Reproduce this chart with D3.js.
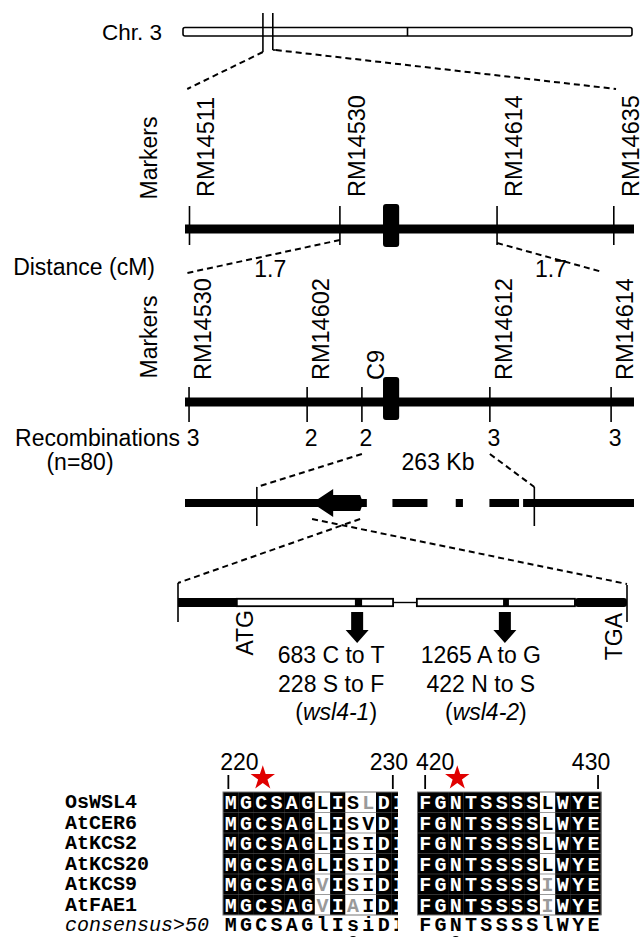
<!DOCTYPE html>
<html>
<head>
<meta charset="utf-8">
<script src="https://cdnjs.cloudflare.com/ajax/libs/d3/7.8.5/d3.min.js"></script>
<style>
  body { margin: 0; background: #fff; }
  svg { display: block; }
  text { font-family: "Liberation Sans", Arial, sans-serif; fill: #000; }
  .mono { font-family: "Liberation Mono", "Courier New", monospace; font-weight: bold; }
</style>
</head>
<body>
<div id="chart"></div>
<script>
// ---- data (positions are % along each drawn segment) ----
const chrDivider = [50];
const chrBreaks = [17.8, 20.0];

const map1Markers = ["RM14511", "RM14530", "RM14614", "RM14635"];
const map1Pos = [1, 34.5, 69.5, 95.5];
const map1Dist = ["1.7", "1.7"];
const map1DistPos = [19, 81.5];
const centromere1 = [44.1, 47.7];

const map2Markers = ["RM14530", "RM14602", "C9", "RM14612", "RM14614"];
const map2Pos = [0.9, 27.2, 39.4, 67.9, 94.9];
const map2Recomb = [3, 2, 2, 3, 3];
const centromere2 = [44.1, 47.7];

const bacTicks = [16.0, 77.8];
const bacSegments = [[0, 40.5], [46.2, 54.0], [60.3, 61.9], [67.8, 74.4], [75.3, 100]];
const geneArrow = { tip: 28.3, neck: 33.0, end: 39.0 };
const bacLabel = "263 Kb";

const geneBlack = [[0, 13.1], [88.4, 100]];
const geneExons = [[13.1, 47.9], [53.2, 88.4]];
const geneMarks = [[39.4, 41.0], [72.4, 73.7]];
const mutations = [
  { pos: 39.9, dx: -26, lines: ["683 C to T", "228 S to F"], allele: "wsl4-1" },
  { pos: 72.8, dx: -24, lines: ["1265 A to G", "422 N to S"], allele: "wsl4-2" }
];

const seqNames = ["OsWSL4", "AtCER6", "AtKCS2", "AtKCS20", "AtKCS9", "AtFAE1"];
const seqLeft = ["MGCSAGLISLDI", "MGCSAGLISVDI", "MGCSAGLISIDI", "MGCSAGLISIDI", "MGCSAGVISIDI", "MGCSAGVIAIDI"];
const seqRight = ["FGNTSSSSLWYE", "FGNTSSSSLWYE", "FGNTSSSSLWYE", "FGNTSSSSLWYE", "FGNTSSSSIWYE", "FGNTSSSSIWYE"];
const greyLeft = ["000000000100", "000000000000", "000000000000", "000000000000", "000000100000", "000000101000"];
const greyRight = ["000000000000", "000000000000", "000000000000", "000000000000", "000000001000", "000000001000"];
const consLeft = "MGCSAGlIsiDI";
const consRight = "FGNTSSSSlWYE";
const ticksLeft = [{ label: "220", col: -0.15, dx: 11 }, { label: "230", col: 10.6, dx: -4 }];
const ticksRight = [{ label: "420", col: 0.0, dx: 10 }, { label: "430", col: 11.3, dx: -7 }];
const starCols = { left: 2.1, right: 2.1 };
const markCols = { left: 8, right: 2 };

// ---- drawing ----
const W = 643, H = 937;
const svg = d3.select("#chart").append("svg").attr("width", W).attr("height", H);
svg.append("rect").attr("width", W).attr("height", H).attr("fill", "#fff");

const FS = 23;
function label(x, y, txt, anchor, size) {
  return svg.append("text").attr("x", x).attr("y", y)
    .attr("text-anchor", anchor || "start")
    .style("font-size", (size || FS) + "px").text(txt);
}
function vlabel(x, y, txt, anchor, size) {
  return svg.append("text")
    .attr("transform", `translate(${x},${y}) rotate(-90)`)
    .attr("text-anchor", anchor || "start")
    .style("font-size", (size || FS) + "px").text(txt);
}
function dashed(x1, y1, x2, y2) {
  svg.append("line").attr("x1", x1).attr("y1", y1).attr("x2", x2).attr("y2", y2)
    .attr("stroke", "#000").attr("stroke-width", 2).attr("stroke-dasharray", "6,4");
}
function vline(x, y1, y2, w) {
  svg.append("line").attr("x1", x).attr("x2", x).attr("y1", y1).attr("y2", y2)
    .attr("stroke", "#000").attr("stroke-width", w || 1.6);
}

// Chr. 3
const chrX = d3.scaleLinear().domain([0, 100]).range([183, 632]);
label(162, 40, "Chr. 3", "end", 22.5);
svg.append("rect").attr("x", chrX(0)).attr("y", 27.5).attr("width", chrX(100) - chrX(0)).attr("height", 8.5)
  .attr("rx", 2).attr("fill", "#fff").attr("stroke", "#000").attr("stroke-width", 1.6);
chrDivider.forEach(d => vline(chrX(d), 27.5, 36));
vline(chrX(chrBreaks[0]), 13, 52);
vline(chrX(chrBreaks[1]), 13, 50);

// map 1
const mapX = d3.scaleLinear().domain([0, 100]).range([185, 634]);
dashed(chrX(chrBreaks[0]), 52, mapX(0.5), 89);
svg.append("line").attr("x1", chrX(chrBreaks[1])).attr("x2", chrX(chrBreaks[1]) + 3)
  .attr("y1", 50).attr("y2", 50).attr("stroke", "#000").attr("stroke-width", 1.6);
dashed(chrX(chrBreaks[1]) + 3, 50, mapX(96), 89);

vlabel(157, 158, "Markers", "middle");
map1Markers.forEach((m, i) => vlabel(mapX(map1Pos[i]) + 25, 197, m, "start", 23.5));
svg.append("line").attr("x1", mapX(0)).attr("x2", mapX(100)).attr("y1", 229).attr("y2", 229)
  .attr("stroke", "#000").attr("stroke-width", 9);
map1Pos.forEach(p => vline(mapX(p), 206, 245));
svg.append("rect").attr("x", mapX(centromere1[0])).attr("y", 204)
  .attr("width", mapX(centromere1[1]) - mapX(centromere1[0])).attr("height", 43)
  .attr("rx", 3).attr("fill", "#000");
dashed(mapX(map1Pos[1]), 240, mapX(0.5), 273);
dashed(mapX(map1Pos[2]), 243, mapX(93), 272);
label(155, 275, "Distance (cM)", "end");
map1Dist.forEach((d, i) => label(mapX(map1DistPos[i]), 277, d, "middle"));

// map 2
vlabel(157, 337, "Markers", "middle");
map2Markers.forEach((m, i) => vlabel(mapX(map2Pos[i]) + 22, 380, m, "start", 23.5));
svg.append("line").attr("x1", mapX(0)).attr("x2", mapX(100)).attr("y1", 402).attr("y2", 402)
  .attr("stroke", "#000").attr("stroke-width", 9);
map2Pos.forEach(p => vline(mapX(p), 387, 422));
svg.append("rect").attr("x", mapX(centromere2[0])).attr("y", 377)
  .attr("width", mapX(centromere2[1]) - mapX(centromere2[0])).attr("height", 43)
  .attr("rx", 3).attr("fill", "#000");
label(180, 446, "Recombinations", "end");
label(80, 470, "(n=80)", "middle");
map2Recomb.forEach((r, i) => label(mapX(map2Pos[i]) + 4, 446, r, "middle"));

// BAC / 263 Kb
dashed(mapX(map2Pos[2]), 454, mapX(bacTicks[0]), 487);
dashed(mapX(map2Pos[3]), 454, mapX(bacTicks[1]), 487);
label(438, 470, bacLabel, "middle");
bacSegments.forEach(s => {
  svg.append("rect").attr("x", mapX(s[0])).attr("y", 499).attr("width", mapX(s[1]) - mapX(s[0]))
    .attr("height", 8).attr("fill", "#000");
});
bacTicks.forEach(t => vline(mapX(t), 487, 526));
const ay = 503;
svg.append("path")
  .attr("d", `M${mapX(geneArrow.tip)},${ay} L${mapX(geneArrow.neck)},${ay - 14} L${mapX(geneArrow.neck)},${ay - 8}
              L${mapX(geneArrow.end)},${ay - 8} Q${mapX(geneArrow.end) + 4},${ay} ${mapX(geneArrow.end)},${ay + 8}
              L${mapX(geneArrow.neck)},${ay + 8} L${mapX(geneArrow.neck)},${ay + 14} Z`)
  .attr("fill", "#000");

// gene structure
const geneX = d3.scaleLinear().domain([0, 100]).range([178, 627]);
dashed(mapX(geneArrow.tip), 519, geneX(100), 584);
dashed(mapX(geneArrow.end), 519, geneX(0), 583);
const gy = 598, gh = 9;
geneBlack.forEach(s => svg.append("rect").attr("x", geneX(s[0])).attr("y", gy)
  .attr("width", geneX(s[1]) - geneX(s[0])).attr("height", gh).attr("rx", s[0] > 50 ? 3 : 0).attr("fill", "#000"));
svg.append("line").attr("x1", geneX(geneExons[0][1])).attr("x2", geneX(geneExons[1][0]))
  .attr("y1", gy + gh / 2).attr("y2", gy + gh / 2).attr("stroke", "#000").attr("stroke-width", 1.4);
geneExons.forEach(s => svg.append("rect").attr("x", geneX(s[0])).attr("y", gy + 0.8)
  .attr("width", geneX(s[1]) - geneX(s[0])).attr("height", gh - 1.6)
  .attr("fill", "#fff").attr("stroke", "#000").attr("stroke-width", 1.8));
geneMarks.forEach(s => svg.append("rect").attr("x", geneX(s[0])).attr("y", gy)
  .attr("width", geneX(s[1]) - geneX(s[0])).attr("height", gh).attr("fill", "#000"));
vline(geneX(0), 583, 622);
vline(geneX(100), 585, 622);
vlabel(geneX(geneExons[0][0]) + 16, 610, "ATG", "end");
vlabel(geneX(100) - 5, 613, "TGA", "end");

mutations.forEach(m => {
  const x = geneX(m.pos);
  svg.append("path")
    .attr("d", `M${x - 6},612 L${x + 6},612 L${x + 6},630 L${x + 11.5},630 L${x},643 L${x - 11.5},630 L${x - 6},630 Z`)
    .attr("fill", "#000");
  const cx = x + m.dx;
  m.lines.forEach((t, j) => label(cx, 663 + j * 29, t, "middle"));
  const t = svg.append("text").attr("x", cx + 5).attr("y", 720).attr("text-anchor", "middle")
    .style("font-size", FS + "px");
  t.append("tspan").text("(");
  t.append("tspan").style("font-style", "italic").text(m.allele);
  t.append("tspan").text(")");
});

// alignment
const rowY = d3.scaleBand().domain(d3.range(seqNames.length)).range([792, 915]);
const cw = 15.3;
const leftX = d3.scaleLinear().domain([0, 1]).range([223, 223 + cw]);
const rightX = d3.scaleLinear().domain([0, 1]).range([417.5, 417.5 + cw]);

svg.append("defs").append("clipPath").attr("id", "clipL")
  .append("rect").attr("x", 0).attr("y", 700).attr("width", 398).attr("height", 260);

seqNames.forEach((n, i) => {
  svg.append("text").attr("class", "mono").attr("x", 65).attr("y", rowY(i) + rowY.bandwidth() / 2 + 6)
    .style("font-size", "20px").text(n);
});
svg.append("text").attr("class", "mono").attr("x", 65).attr("y", 931)
  .style("font-size", "20px").style("font-weight", "normal").style("font-style", "italic").text("consensus>50");

function block(seqs, greys, cons, xs, clip) {
  const g = svg.append("g");
  if (clip) g.attr("clip-path", "url(#clipL)");
  const ncol = seqs[0].length;
  const y0 = rowY.range()[0], y1 = rowY.range()[1];
  for (let c = 0; c < ncol; c++) {
    const col = seqs.map(s => s[c]);
    const same = col.every(a => a === col[0]);
    g.append("rect").attr("x", xs(c)).attr("y", y0).attr("width", cw + 0.3).attr("height", y1 - y0)
      .attr("fill", same ? "#000" : "#fff");
    col.forEach((a, r) => {
      g.append("text").attr("class", "mono").attr("x", xs(c + 0.5)).attr("y", rowY(r) + rowY.bandwidth() / 2 + 7)
        .attr("text-anchor", "middle").style("font-size", "20px")
        .style("fill", same ? "#fff" : (greys[r][c] === "1" ? "#9a9a9a" : "#000"))
        .text(a);
    });
    g.append("text").attr("class", "mono").attr("x", xs(c + 0.5)).attr("y", 931)
      .attr("text-anchor", "middle").style("font-size", "20px").text(cons[c]);
  }
  seqs.forEach((s, r) => {
    if (r > 0) g.append("line").attr("x1", xs(0)).attr("x2", xs(ncol)).attr("y1", rowY(r)).attr("y2", rowY(r))
      .attr("stroke", "#555").attr("stroke-width", 0.6);
  });
  g.append("rect").attr("x", xs(0)).attr("y", y0).attr("width", xs(ncol) - xs(0)).attr("height", y1 - y0)
    .attr("fill", "none").attr("stroke", "#777").attr("stroke-width", 1);
}
block(seqLeft, greyLeft, consLeft, leftX, true);
block(seqRight, greyRight, consRight, rightX, false);

[[ticksLeft, leftX], [ticksRight, rightX]].forEach(([ticks, xs]) => {
  ticks.forEach(t => {
    const x = xs(t.col + 0.5);
    vline(x, 775, 789, 1.8);
    label(x + t.dx, 770, t.label, "middle", 23);
  });
});
const star = d3.symbol(d3.symbolStar).size(185);
[[starCols.left, leftX], [starCols.right, rightX]].forEach(([c, xs]) => {
  svg.append("path").attr("d", star()).attr("transform", `translate(${xs(c + 0.5)},778)`).attr("fill", "#e00000");
});
[[markCols.left, leftX], [markCols.right, rightX]].forEach(([c, xs]) => {
  svg.append("ellipse").attr("cx", xs(c + 0.5)).attr("cy", 940).attr("rx", 4).attr("ry", 4).attr("fill", "#000");
});
</script>
</body>
</html>
